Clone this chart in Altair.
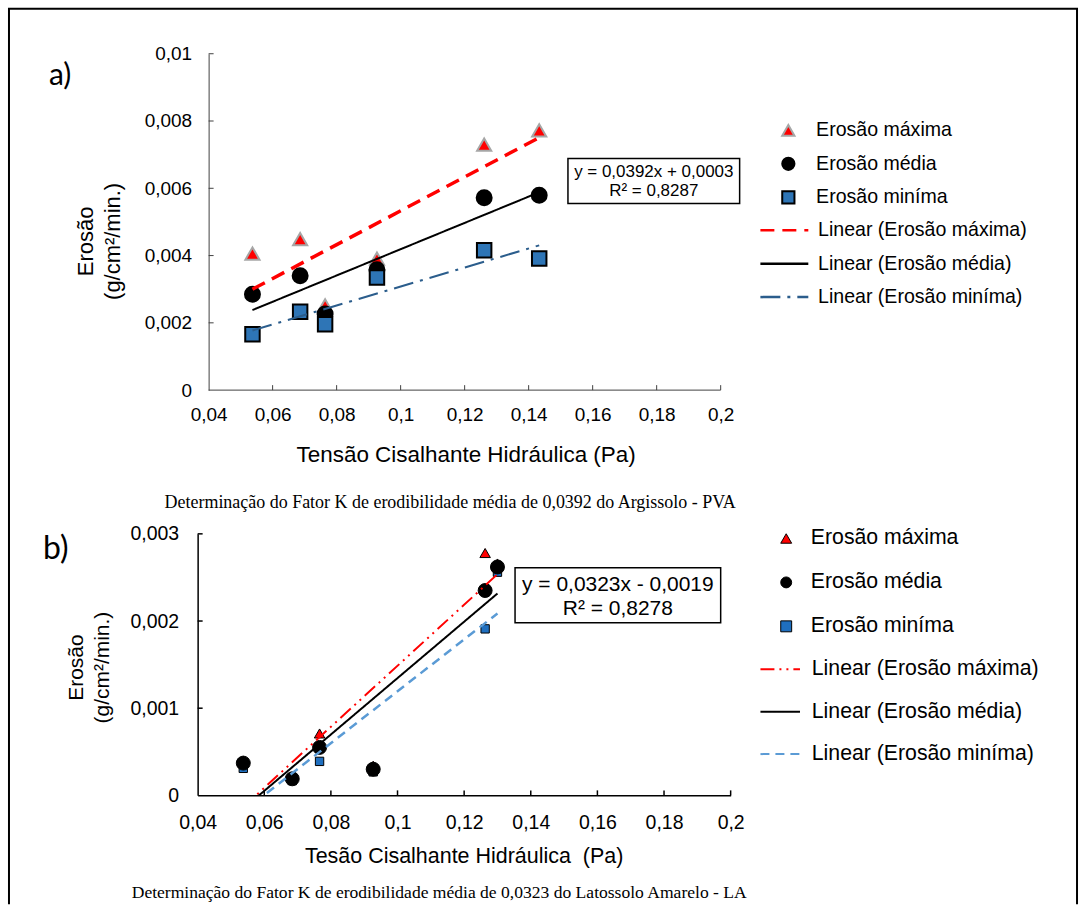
import altair as alt
import pandas as pd

# ---------------- data ----------------
SERIES = ["Erosão máxima", "Erosão média", "Erosão miníma"]
TREND = ["Linear (Erosão máxima)", "Linear (Erosão média)", "Linear (Erosão miníma)"]

# a) Argissolo - PVA
XA = [0.0537, 0.0686, 0.0764, 0.0926, 0.1261, 0.1433]
MAX_A = [0.00406, 0.00449, 0.00252, 0.00391, 0.00730, 0.00772]
MED_A = [0.00285, 0.00340, 0.00226, 0.00358, 0.00572, 0.00579]
MIN_A = [0.00166, 0.00233, 0.00196, 0.00335, 0.00416, 0.00391]

# b) Latossolo Amarelo - LA
XB = [0.0537, 0.0684, 0.0766, 0.0927, 0.1263, 0.1300]
MAX_B = [0.00040, 0.00020, 0.00071, 0.00034, 0.00278, 0.00266]
MED_B = [0.00037, 0.00019, 0.00055, 0.00030, 0.00235, 0.00262]
MIN_B = [0.00031, 0.00017, 0.00039, 0.00027, 0.00191, 0.00256]

X_TICKS = [0.04, 0.06, 0.08, 0.1, 0.12, 0.14, 0.16, 0.18, 0.2]
YA_TICKS = [0, 0.002, 0.004, 0.006, 0.008, 0.01]
YB_TICKS = [0, 0.001, 0.002, 0.003]

EQ_A = ["y = 0,0392x + 0,0003", "R² = 0,8287"]
EQ_B = ["y = 0,0323x - 0,0019", "R² = 0,8278"]
TITLE_Y = ["Erosão", "(g/cm²/min.)"]
TITLE_X_A = "Tensão Cisalhante Hidráulica (Pa)"
TITLE_X_B = "Tesão Cisalhante Hidráulica \u00a0(Pa)"
CAP_A = "Determinação do Fator K de erodibilidade média de 0,0392 do Argissolo - PVA"
CAP_B = "Determinação do Fator K de erodibilidade média de 0,0323 do Latossolo Amarelo - LA"

SANS = "Liberation Sans"
SERIF = "Liberation Serif"
LBL = "replace(format(datum.value, '~g'), '.', ',')"


def long_df(xs, series_vals):
    rows = []
    for name, vals in zip(SERIES, series_vals):
        for x, y in zip(xs, vals):
            rows.append({"x": x, "y": y, "serie": name})
    return pd.DataFrame(rows)


def one():
    return alt.Chart(alt.Data(values=[dict(k=0)]))


def text(t, x, y, size, font=SANS, align="center", baseline="alphabetic", angle=None, lh=None):
    kw = dict(text=t, align=align, baseline=baseline, font=font, fontSize=size, color="black")
    if angle is not None:
        kw["angle"] = angle
    if lh is not None:
        kw["lineHeight"] = lh
    return one().mark_text(**kw).encode(x=alt.value(x), y=alt.value(y))


def panel(cfg):
    df = long_df(cfg["xs"], cfg["vals"])
    sx = alt.Scale(domain=cfg["xdom"], nice=False, zero=False)
    sy = alt.Scale(domain=cfg["ydom"], nice=False, zero=False)
    ax_x = alt.Axis(values=X_TICKS, labelExpr=LBL, title=None, grid=False, ticks=False, tickSize=0,
                    domain=cfg["xdomain_line"], domainColor=cfg["axis_color"], domainWidth=cfg["axis_w"],
                    labelPadding=cfg["xlabpad"], labelFlush=False, labelOverlap=False,
                    labelFont=SANS, labelFontSize=cfg["tick_fs"], labelColor="black")
    ax_y = alt.Axis(values=cfg["yticks"], labelExpr=LBL, title=None, grid=False, ticks=False, tickSize=0,
                    domainColor=cfg["axis_color"], domainWidth=cfg["axis_w"], offset=cfg["yoffset"],
                    labelPadding=cfg["ylabpad"], labelFlush=False, labelOverlap=False,
                    labelFont=SANS, labelFontSize=cfg["tick_fs"], labelColor="black")
    X = lambda f: alt.X(f, scale=sx, axis=ax_x)
    Y = lambda f: alt.Y(f, scale=sy, axis=ax_y)
    XD = lambda v: alt.XDatum(v, scale=sx, axis=ax_x)
    YD = lambda v: alt.YDatum(v, scale=sy, axis=ax_y)

    leg_common = dict(orient="none", title=None, direction="vertical", padding=0,
                      labelFont=SANS, labelColor="black", labelLimit=500)
    lp = cfg["leg_pts"]
    leg_pts = alt.Legend(legendX=lp["x"], legendY=lp["y"], labelFontSize=lp["fs"], rowPadding=lp["rowpad"],
                         labelOffset=lp["laboff"], symbolSize=lp["size"], symbolStrokeWidth=lp["sw"],
                         **leg_common)
    ll = cfg["leg_lines"]
    leg_lines = alt.Legend(legendX=ll["x"], legendY=ll["y"], labelFontSize=ll["fs"], rowPadding=ll["rowpad"],
                           labelOffset=ll["laboff"], symbolType=ll["path"], symbolSize=144,
                           symbolStrokeWidth=ll["sw"], **leg_common)

    layers = []
    # border frame (top panel only)
    if cfg.get("frame"):
        fr = cfg["frame"]
        layers.append(one().mark_rule(color="black", strokeWidth=2).encode(
            x=alt.value(fr["l"]), y=alt.value(fr["t"]), y2=alt.value(fr["b"])))
        layers.append(one().mark_rule(color="black", strokeWidth=2).encode(
            x=alt.value(fr["r"]), y=alt.value(fr["t"]), y2=alt.value(fr["b"])))
        layers.append(one().mark_rule(color="black", strokeWidth=2).encode(
            x=alt.value(fr["l"] - 1), x2=alt.value(fr["r"] + 1), y=alt.value(fr["t"])))

    # explicit x axis line (when the native one is hidden)
    if not cfg["xdomain_line"]:
        layers.append(one().mark_rule(color=cfg["axis_color"], strokeWidth=cfg["axis_w"]).encode(
            x=XD(X_TICKS[0]), x2=alt.X2Datum(X_TICKS[-1]), y=YD(0)))
    # inside tick marks
    layers.append(alt.Chart(pd.DataFrame({"v": cfg["yticks"][1:]})).mark_rule(
        color=cfg["axis_color"], strokeWidth=cfg["axis_w"], x2Offset=5).encode(
        x=XD(X_TICKS[0]), x2=alt.X2Datum(X_TICKS[0]), y=Y("v:Q")))
    layers.append(alt.Chart(pd.DataFrame({"v": X_TICKS[1:]})).mark_rule(
        color=cfg["axis_color"], strokeWidth=cfg["axis_w"], y2Offset=-5).encode(
        x=X("v:Q"), y=YD(0), y2=alt.Y2Datum(0)))

    # markers, one layer per series (drawing order as in the reference)
    for i in cfg["order"]:
        name = SERIES[i]
        layers.append(alt.Chart(df).transform_filter(alt.datum.serie == name).mark_point(
            filled=True, opacity=1, strokeWidth=cfg["msw"], size=cfg["msize"][i]).encode(
            x=X("x:Q"), y=Y("y:Q"),
            shape=alt.Shape("serie:N", scale=alt.Scale(domain=SERIES, range=["triangle-up", "circle", "square"]),
                            legend=leg_pts),
            fill=alt.Fill("serie:N", scale=alt.Scale(domain=SERIES, range=cfg["mfill"]), legend=leg_pts),
            stroke=alt.Stroke("serie:N", scale=alt.Scale(domain=SERIES, range=cfg["mstroke"]), legend=leg_pts),
        ))

    # linear trend lines
    for i, name in enumerate(SERIES):
        layers.append(alt.Chart(df).transform_filter(alt.datum.serie == name).transform_regression(
            "x", "y", groupby=["serie"]).transform_calculate(
            linha="'Linear (' + datum.serie + ')'").mark_line(clip=True, strokeWidth=cfg["lw"][i]).encode(
            x=X("x:Q"), y=Y("y:Q"),
            color=alt.Color("linha:N", scale=alt.Scale(domain=TREND, range=cfg["lcolor"]), legend=leg_lines),
            strokeDash=alt.StrokeDash("linha:N", scale=alt.Scale(domain=TREND, range=cfg["ldash"]),
                                      legend=leg_lines),
        ))

    # equation box
    bx = cfg["box"]
    layers.append(one().mark_rect(fill="white", stroke="black", strokeWidth=bx["sw"]).encode(
        x=alt.value(bx["x1"]), x2=alt.value(bx["x2"]), y=alt.value(bx["y1"]), y2=alt.value(bx["y2"])))
    for line_txt, ly in zip(cfg["eq"], bx["ty"]):
        layers.append(text(line_txt, bx["tx"], ly, bx["fs"], baseline="middle"))

    # titles, captions, panel letter
    t = cfg["texts"]
    layers.append(text(cfg["letter"], t["letter"][0], t["letter"][1], t["letter"][2], font="Lato", align="left"))
    layers.append(text(TITLE_Y, t["ytitle"][0], t["ytitle"][1], t["ytitle"][2], angle=270, lh=t["ytitle"][3]))
    layers.append(text(cfg["xtitle"], t["xtitle"][0], t["xtitle"][1], t["xtitle"][2]))
    layers.append(text(cfg["caption"], t["cap"][0], t["cap"][1], t["cap"][2], font=SERIF))

    return alt.layer(*layers).properties(width=cfg["w"], height=cfg["h"])


cfg_a = dict(
    xs=XA, vals=[MAX_A, MED_A, MIN_A], order=[0, 1, 2],
    xdom=[0.04 - 11 * 0.16 / 513, 0.2], ydom=[0, 0.01], yticks=YA_TICKS,
    w=524, h=337, xdomain_line=False, yoffset=-11, axis_color="#404040", axis_w=1,
    xlabpad=15, ylabpad=17, tick_fs=19,
    msw=2, mfill=["#ff0000", "#000000", "#2e75b6"], mstroke=["#a6a6a6", "#000000", "#000000"],
    msize=[200, 225, 210],
    lw=[3.5, 2, 2], lcolor=["#ff0000", "#000000", "#2b5d8c"], ldash=[[14, 8], [1, 0], [20, 7, 3, 7]],
    leg_pts=dict(x=582, y=67, fs=19.6, rowpad=12.5, laboff=18, size=150, sw=2),
    leg_lines=dict(x=578, y=167, fs=19.6, rowpad=12.5, laboff=24, sw=2.5, path="M-4,0H4"),
    box=dict(x1=371, x2=543, y1=105, y2=150, sw=1.5, tx=457, ty=[118.7, 137.7], fs=17),
    eq=EQ_A, letter="a)", xtitle=TITLE_X_A, caption=CAP_A,
    texts=dict(letter=(-149, 31, 30), ytitle=(-105, 188, 22, 27), xtitle=(269, 409, 22.5),
               cap=(253, 455, 18)),
    frame=dict(l=-189, r=881, t=-45, b=852),
)

cfg_b = dict(
    xs=XB, vals=[MAX_B, MED_B, MIN_B], order=[2, 0, 1],
    xdom=[0.04, 0.2], ydom=[0, 0.003], yticks=YB_TICKS,
    w=534, h=262, xdomain_line=True, yoffset=0, axis_color="#000000", axis_w=1.5,
    xlabpad=18, ylabpad=19, tick_fs=19.5,
    msw=1, mfill=["#ff0000", "#000000", "#1f6fbf"], mstroke=["#000000", "#000000", "#000000"],
    msize=[110, 196, 70],
    lw=[2, 2, 2.5], lcolor=["#ff0000", "#000000", "#5b9bd5"], ldash=[[14, 5, 2, 5, 2, 5], [1, 0], [9, 6]],
    leg_pts=dict(x=579, y=-6, fs=21.3, rowpad=22, laboff=14, size=120, sw=1),
    leg_lines=dict(x=573, y=125, fs=21.3, rowpad=20.5, laboff=21, sw=2, path="M-3.3,0H3.3"),
    box=dict(x1=318, x2=524, y1=34, y2=89, sw=1.5, tx=421, ty=[51, 75.3], fs=21),
    eq=EQ_B, letter="b)", xtitle=TITLE_X_B, caption=CAP_B,
    texts=dict(letter=(-155, 25, 32), ytitle=(-115, 134, 21, 26), xtitle=(267, 330, 21.5),
               cap=(242, 365, 17.6)),
)

chart = alt.vconcat(panel(cfg_a), panel(cfg_b), spacing=144, bounds="flush").resolve_scale(
    x="independent", y="independent", shape="independent", fill="independent", stroke="independent",
    color="independent", strokeDash="independent",
).resolve_legend(
    shape="independent", fill="independent", stroke="independent", color="independent",
    strokeDash="independent",
).properties(
    padding={"left": 7, "top": 7, "right": 7, "bottom": 0}, background="white"
).configure_view(stroke=None)

chart.save("out.html", embed_options={"renderer": "svg", "actions": False})
